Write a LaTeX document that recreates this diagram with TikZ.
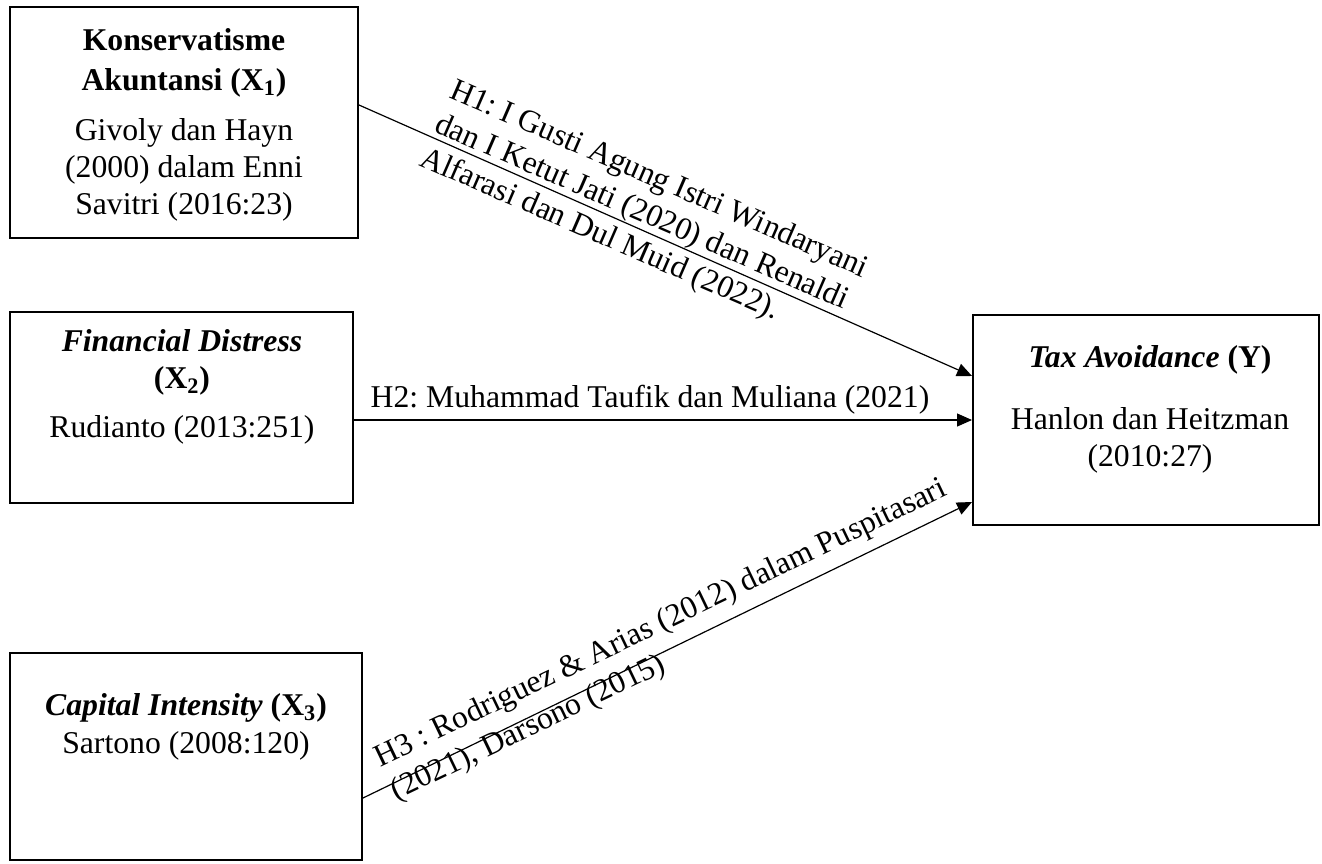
\documentclass[tikz,border=0pt]{standalone}
\usepackage{fontspec}
\setmainfont{Liberation Serif}
\usetikzlibrary{arrows.meta}
\frenchspacing
\begin{document}
\begin{tikzpicture}[x=0.5pt,y=-0.5pt,
  box/.style={draw, line width=1pt, rectangle, inner sep=0pt},
  txt/.style={font=\fontsize{15.85}{18.5}\selectfont, align=center, inner sep=0pt},
  lbl/.style={font=\fontsize{15.85}{18.5}\selectfont, align=left, inner sep=0pt},
  arr/.style={line width=0.6pt, -{Triangle[length=7.5pt,width=6.5pt]}}]
\useasboundingbox (0,0) rectangle (1322,863);
% boxes
\node[box, minimum width=174pt, minimum height=115.5pt] (x1) at (184,122.5) {};
\node[box, minimum width=171.5pt, minimum height=95.5pt] (x2) at (181.5,407.5) {};
\node[box, minimum width=176pt, minimum height=103.5pt] (x3) at (186,756.5) {};
\node[box, minimum width=173pt, minimum height=105pt] (y) at (1146,420) {};
% box texts
\node[txt, font=\fontsize{15.85}{20}\selectfont] (x1a) at (184,63) {\textbf{Konservatisme}\\\textbf{Akuntansi (X\textsubscript{1})}};
\node[txt] (x1b) at (184,170) {Givoly dan Hayn\\(2000) dalam Enni\\Savitri (2016:23)};
\node[txt] (x2a) at (182,362) {\textbf{\textit{Financial Distress}}\\\textbf{(X\textsubscript{2})}};
\node[txt] (x2b) at (182,430) {Rudianto (2013:251)};
\node[txt] (x3a) at (186,708) {\textbf{\textit{Capital Intensity}} \textbf{(X\textsubscript{3})}};
\node[txt] (x3b) at (186,746) {Sartono (2008:120)};
\node[txt] (ya) at (1150,360) {\textbf{\textit{Tax Avoidance}} \textbf{(Y)}};
\node[txt] (yb) at (1150,440) {Hanlon dan Heitzman\\(2010:27)};
% connectors
\draw[arr] (x1.east |- 0,105) -- (y.west |- 0,376);
\draw[arr] (x2.east |- 0,420) -- (y.west |- 0,420);
\draw[arr] (x3.east |- 0,798) -- (y.west |- 0,502);
% connector labels
\node[lbl, rotate=-23.5, anchor=west] (h1) at (436,124) {H1: I Gusti Agung Istri Windaryani\\dan I Ketut Jati (2020) dan Renaldi\\Alfarasi dan Dul Muid (2022).};
\node[txt] (h2) at (650,400) {H2: Muhammad Taufik dan Muliana (2021)};
\node[lbl, rotate=25.6, anchor=west] (h3) at (385,777) {H3 : Rodriguez \& Arias (2012) dalam Puspitasari\\(2021), Darsono (2015)};
\end{tikzpicture}
\end{document}
